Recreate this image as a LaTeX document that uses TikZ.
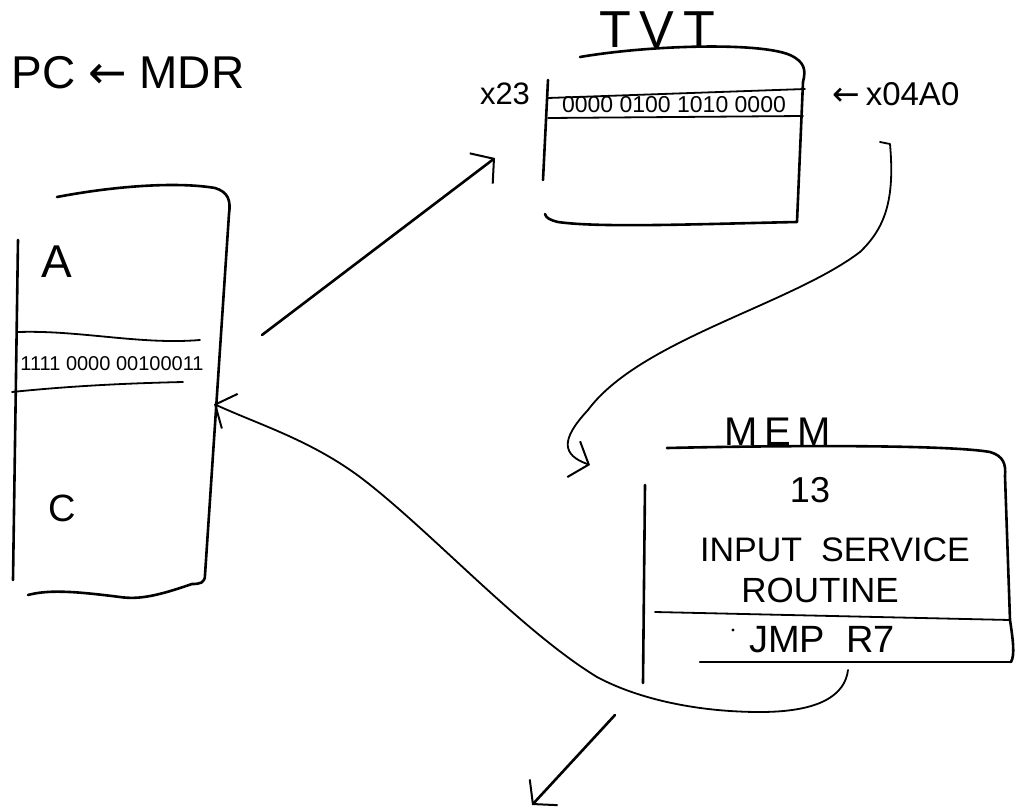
\documentclass[tikz,border=0pt]{standalone}
\usepackage{fontspec}
\setmainfont{Liberation Sans}
\newfontfamily\arrowfont{DejaVu Sans}
\usetikzlibrary{arrows.meta}
\newcommand{\fsz}[1]{\fontsize{#1}{#1}\selectfont}
\begin{document}
\begin{tikzpicture}[x=1pt,y=-1pt,
  ink/.style={line width=2.6pt, line cap=round, line join=round, black},
  thinink/.style={line width=1.8pt, line cap=round, line join=round, black},
  barb/.style={-{Straight Barb[length=16pt,width=38pt,line width=2pt]}},
  hand/.style={inner sep=0pt, text=black}]
\useasboundingbox (0,0) rectangle (1021,811);

% ---------- texts ----------
\node[hand, font=\fsz{46}] (pc) at (128,73) {PC {\arrowfont ←} MDR};
\node[hand, font=\fsz{52}] (tvtlabel) at (657,30) {T\,V\,T};
\node[hand, font=\fsz{46}] (regA) at (57,262) {A};
\node[hand, font=\fsz{38}] (regC) at (62,508) {C};
\node[hand, font=\fsz{20}] (regrow) at (112,364) {1111 0000 00100011};
\node[hand, font=\fsz{23}] (tvtrow) at (674,105) {0000 0100 1010 0000};
\node[hand, font=\fsz{31}] (x23) at (505,94) {x23};
\node[hand, font=\fsz{33}] (xval) at (896,94) {{\arrowfont ←}\,x04A0};
\node[hand, font=\fsz{40}] (memlabel) at (778,432) {M\,E\,M};
\node[hand, font=\fsz{36}] (thirteen) at (810,490) {13};
\node[hand, font=\fsz{34}] (isr1) at (835,550) {INPUT\ \ SERVICE};
\node[hand, font=\fsz{35}] (isr2) at (820,590) {ROUTINE};
\node[hand, font=\fsz{38}] (jmp) at (822,640) {JMP\ \ R7};
\fill (733,630) circle (1.6pt);

% ---------- register box ----------
\draw[ink] (57,197) .. controls (120,185) and (180,182) .. (215,188)
  .. controls (228,192) and (231,200) .. (229,214) -- (205,575)
  .. controls (205,583) and (200,584) .. (192,584)
  .. controls (160,595) and (140,600) .. (120,597)
  .. controls (80,592) and (50,589) .. (28,595);
\draw[ink] (18,240) -- (13,580);
\draw[thinink] (18,332) .. controls (80,330) and (140,345) .. (200,340);
\draw[thinink] (12,392) .. controls (80,385) and (140,383) .. (183,382);

% ---------- TVT box ----------
\draw[ink] (580,57) .. controls (650,45) and (760,42) .. (790,55)
  .. controls (805,62) and (806,70) .. (803,82) -- (797,222)
  .. controls (700,224) and (600,228) .. (558,222)
  .. controls (550,220) and (546,218) .. (545,214);
\draw[ink] (548,80) -- (543,180);
\draw[thinink] (548,98) -- (805,89);
\draw[thinink] (548,118) -- (803,116);

% ---------- MEM box ----------
\draw[ink] (667,448) .. controls (800,445) and (950,445) .. (990,452)
  .. controls (1004,456) and (1006,465) .. (1005,476) -- (1010,620)
  .. controls (1013,640) and (1015,655) .. (1011,662);
\draw[ink] (1011,662) -- (700,662);
\draw[ink] (645,485) -- (643,683);
\draw[thinink] (655,612) -- (1010,620);

% ---------- connector coordinates ----------
\coordinate (regout) at (262,335);
\coordinate (tvtin) at (495,158);
\coordinate (tvtout) at (880,142);
\coordinate (hook) at (890,144);
\coordinate (memin) at (590,465);
\coordinate (memout) at (848,670);
\coordinate (regin) at (214,404);
\coordinate (downfrom) at (615,715);
\coordinate (downto) at (532,805);

% ---------- connectors ----------
\draw[ink, barb] (regout) -- (tvtin);
\draw[thinink, barb] (tvtout) -- (hook)
  .. controls (895,200) and (885,228) .. (860,252)
  .. controls (790,305) and (640,340) .. (588,410)
  .. controls (560,440) and (562,455) .. (memin);
\draw[thinink, barb] (memout)
  .. controls (845,695) and (820,712) .. (760,712)
  .. controls (700,712) and (640,700) .. (597,677)
  .. controls (520,630) and (430,530) .. (360,477)
  .. controls (310,440) and (260,425) .. (regin);
\draw[ink, barb] (downfrom) -- (downto);
\end{tikzpicture}
\end{document}
